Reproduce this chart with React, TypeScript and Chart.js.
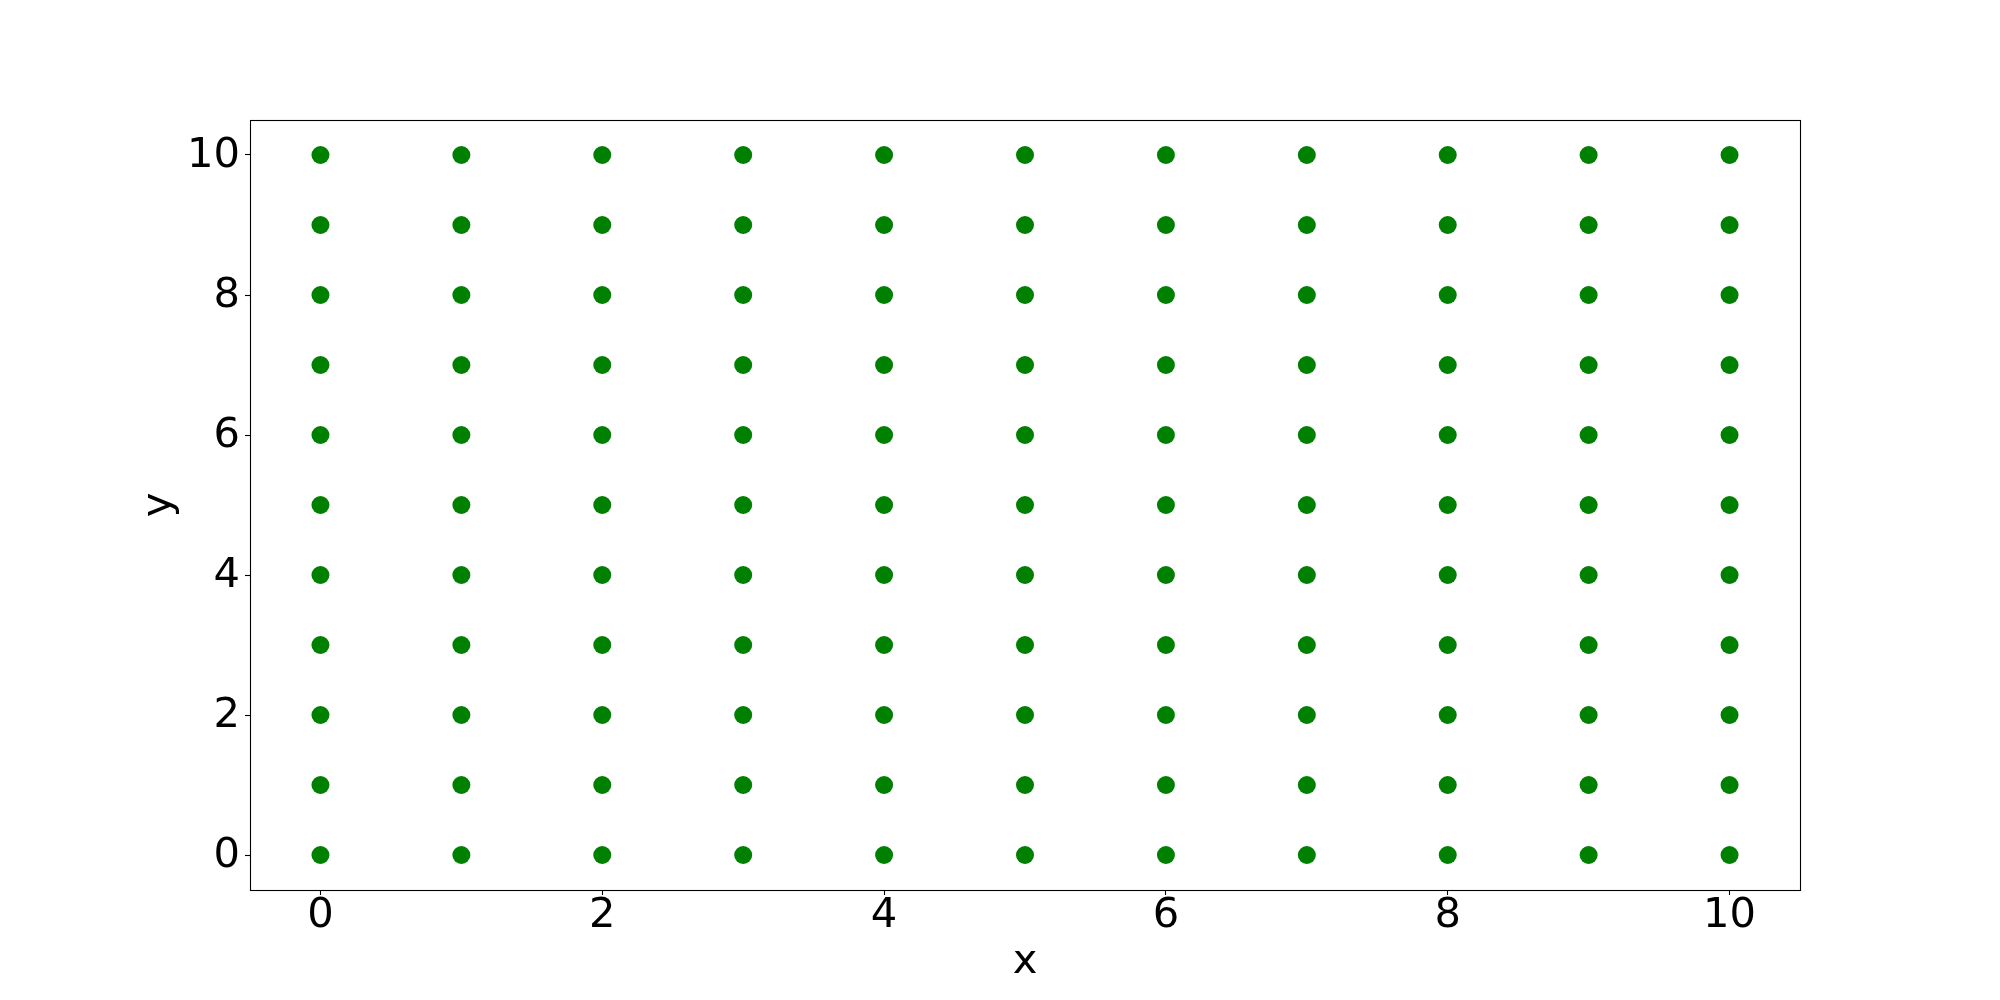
import React, { useEffect, useRef } from "react";
import { Chart, registerables } from "chart.js";

Chart.register(...registerables);

const xValues = [0, 1, 2, 3, 4, 5, 6, 7, 8, 9, 10];
const yValues = [0, 1, 2, 3, 4, 5, 6, 7, 8, 9, 10];
const xTickLabels = ["0", "2", "4", "6", "8", "10"];
const yTickLabels = ["0", "2", "4", "6", "8", "10"];
const xTitle = "x";
const yTitle = "y";
const pointColor = "#008000";

const FONT = "'DejaVu Sans', sans-serif";
const FS = 41.67;

const framePlugin = {
  id: "frame",
  afterDraw(chart: any) {
    const { ctx, chartArea } = chart;
    ctx.save();
    ctx.strokeStyle = "#000";
    ctx.lineWidth = 1.1;
    ctx.strokeRect(
      Math.round(chartArea.left) + 0.5,
      Math.round(chartArea.top) + 0.5,
      Math.round(chartArea.right - chartArea.left),
      Math.round(chartArea.bottom - chartArea.top)
    );
    ctx.restore();
  },
};

export default function App() {
  const ref = useRef<HTMLCanvasElement | null>(null);
  useEffect(() => {
    document.body.style.margin = "0";
    const points: { x: number; y: number }[] = [];
    for (const x of xValues) for (const y of yValues) points.push({ x, y });
    const chart = new Chart(ref.current as HTMLCanvasElement, {
      type: "scatter",
      data: {
        datasets: [
          {
            data: points,
            backgroundColor: pointColor,
            borderColor: pointColor,
            borderWidth: 0,
            pointRadius: 9,
            pointHoverRadius: 9,
          },
        ],
      },
      options: {
        animation: false,
        responsive: false,
        devicePixelRatio: 1,
        layout: { padding: { left: 0, top: 120, right: 200, bottom: 0 } },
        plugins: { legend: { display: false }, tooltip: { enabled: false } },
        scales: {
          x: {
            type: "linear",
            position: "bottom",
            min: -0.5,
            max: 10.5,
            afterFit(scale: any) {
              scale.height = 110;
            },
            border: { display: false },
            grid: {
              drawOnChartArea: false,
              drawTicks: true,
              tickLength: 5,
              tickColor: "#000",
              tickWidth: 1.1,
            },
            ticks: {
              stepSize: 2,
              includeBounds: false,
              padding: 0,
              color: "#000",
              maxRotation: 0,
              font: { family: FONT, size: FS, lineHeight: 1 },
              callback: (v: any) => {
                const i = xTickLabels.indexOf(String(v));
                return i >= 0 ? xTickLabels[i] : "";
              },
            },
            title: {
              display: true,
              text: xTitle,
              color: "#000",
              font: { family: FONT, size: FS, lineHeight: 1 },
              padding: { top: 0, bottom: 17 },
            },
          },
          y: {
            type: "linear",
            position: "left",
            min: -0.5,
            max: 10.5,
            afterFit(scale: any) {
              scale.width = 250;
            },
            border: { display: false },
            grid: {
              drawOnChartArea: false,
              drawTicks: true,
              tickLength: 5,
              tickColor: "#000",
              tickWidth: 1.1,
            },
            ticks: {
              stepSize: 2,
              includeBounds: false,
              padding: 5,
              labelOffset: 1.5,
              color: "#000",
              font: { family: FONT, size: FS, lineHeight: 1 },
              callback: (v: any) => {
                const i = yTickLabels.indexOf(String(v));
                return i >= 0 ? yTickLabels[i] : "";
              },
            },
            title: {
              display: true,
              text: yTitle,
              color: "#000",
              font: { family: FONT, size: FS, lineHeight: 1 },
              padding: { top: 138, bottom: 0 },
            },
          },
        },
      },
      plugins: [framePlugin],
    } as any);
    return () => chart.destroy();
  }, []);
  return (
    <div style={{ position: "absolute", left: 0, top: 0, width: 2000, height: 1000, background: "#fff" }}>
      <canvas ref={ref} width={2000} height={1000} style={{ width: 2000, height: 1000, display: "block" }} />
    </div>
  );
}
